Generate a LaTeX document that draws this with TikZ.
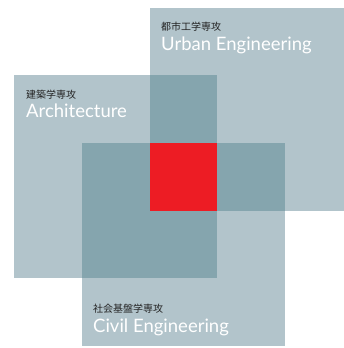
\documentclass[tikz,border=0pt]{standalone}
\usepackage{fontspec}
\setmainfont{Lato}
\newfontfamily\jpfont{Noto Sans CJK JP}
\usepackage{xcolor}
\usepackage{tikz}
\definecolor{majorlight}{RGB}{178,196,203}
\definecolor{majordark}{RGB}{133,165,174}
\definecolor{majorred}{RGB}{237,28,36}
\definecolor{jptext}{RGB}{35,35,35}
\tikzset{
	jplabel/.style={anchor=base west,inner sep=0pt,font=\jpfont\fontsize{10}{12}\selectfont,text=jptext},
	enlabel/.style={anchor=base west,inner sep=0pt,font=\fontsize{18.5}{22}\selectfont,text=white}
}

\begin{document}
\begin{tikzpicture}[x=1pt,y=-1pt]
	\useasboundingbox (0,0) rectangle (344,348);
	% corners of the three squares
	\coordinate (U1) at (150,8);
	\coordinate (U2) at (353,211);
	\coordinate (A1) at (14,75);
	\coordinate (A2) at (217,278);
	\coordinate (C1) at (82,143);
	\coordinate (C2) at (285,346);
	
	\begin{scope}
		\clip (0,0) rectangle (344,348);
		\fill[majorlight] (U1) rectangle (U2);
	\end{scope}
	\fill[majorlight] (A1) rectangle (A2);
	\fill[majorlight] (C1) rectangle (C2);
	
	% overlaps
	\fill[majordark] (U1 |- A1) rectangle (A2 |- U2);
	\fill[majordark] (C1) rectangle (A2);
	\fill[majordark] (U1 |- C1) rectangle (C2 |- U2);
	\fill[majorred] (U1 |- C1) rectangle (A2 |- U2);
	
	\node[jplabel] (urbanjp) at (161,30.5) {都市工学専攻};
	\node[enlabel] (urbanen) at (161,50.5) {Urban Engineering};
	\node[jplabel] (archjp) at (26,98.5) {建築学専攻};
	\node[enlabel] (archen) at (26,117.5) {Architecture};
	\node[jplabel] (civiljp) at (93,312.5) {社会基盤学専攻};
	\node[enlabel] (civilen) at (93,332) {Civil Engineering};
\end{tikzpicture}
\end{document}
